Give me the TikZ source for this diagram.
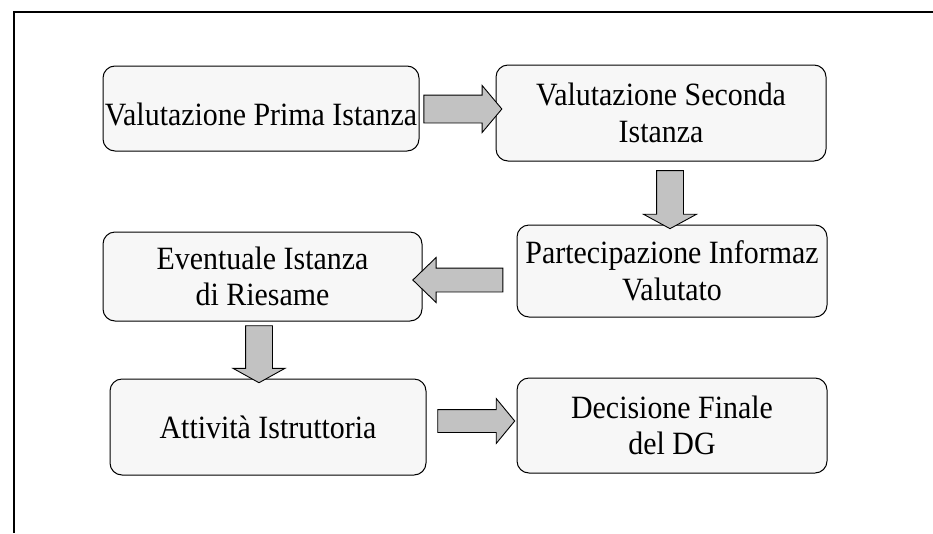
\documentclass[tikz,border=0pt]{standalone}
\usepackage{fontspec}
\setmainfont{Liberation Serif}
\newfontfamily\boxfont[FakeStretch=0.92]{Liberation Serif}
\usetikzlibrary{shapes.arrows}
\begin{document}
\begin{tikzpicture}[x=1pt,y=-1pt,
  box/.style={draw=black, line width=1pt, rounded corners=12pt, fill=gray!6,
    inner sep=0pt, align=center, font=\boxfont\fontsize{32.5}{36.5}\selectfont},
  blockarrow/.style={single arrow, draw=black, line width=0.9pt, fill=gray!48,
    inner sep=0pt, single arrow head indent=0pt},
  frameline/.style={line width=1.1pt}]
\useasboundingbox (0,0) rectangle (933,533);
\draw[frameline] (933,12) -- (14,12) -- (14,533);

\node[box, minimum width=316pt, minimum height=85pt, text height=34pt, text depth=0pt] (b1) at (261,108.5) {Valutazione Prima Istanza};
\node[box, minimum width=330pt, minimum height=96pt] (b2) at (661,113) {Valutazione Seconda\\Istanza};
\node[box, minimum width=310pt, minimum height=92pt] (b3) at (672,271) {Partecipazione Informaz\\Valutato};
\node[box, minimum width=319pt, minimum height=89pt] (b4) at (262.5,276.5) {Eventuale Istanza\\di Riesame};
\node[box, minimum width=316pt, minimum height=96pt] (b5) at (268,427) {Attività Istruttoria};
\node[box, minimum width=310pt, minimum height=95pt] (b6) at (672,425.5) {Decisione Finale\\del DG};

\node[blockarrow, minimum height=78pt, inner sep=13.5pt, single arrow head extend=9.5pt, single arrow tip angle=100] (a1) at (457,109) {};
\node[blockarrow, rotate=-90, minimum height=58pt, inner sep=13pt, single arrow head extend=13pt, single arrow tip angle=123] (a2) at (670,196) {};
\node[blockarrow, rotate=180, minimum height=90pt, inner sep=11.5pt, single arrow head extend=10.5pt, single arrow tip angle=88] (a3) at (464,280) {};
\node[blockarrow, rotate=-90, minimum height=57pt, inner sep=13pt, single arrow head extend=12.5pt, single arrow tip angle=122] (a4) at (259,350.5) {};
\node[blockarrow, minimum height=77pt, inner sep=11pt, single arrow head extend=11pt, single arrow tip angle=101] (a5) at (471.5,421) {};
\end{tikzpicture}
\end{document}
